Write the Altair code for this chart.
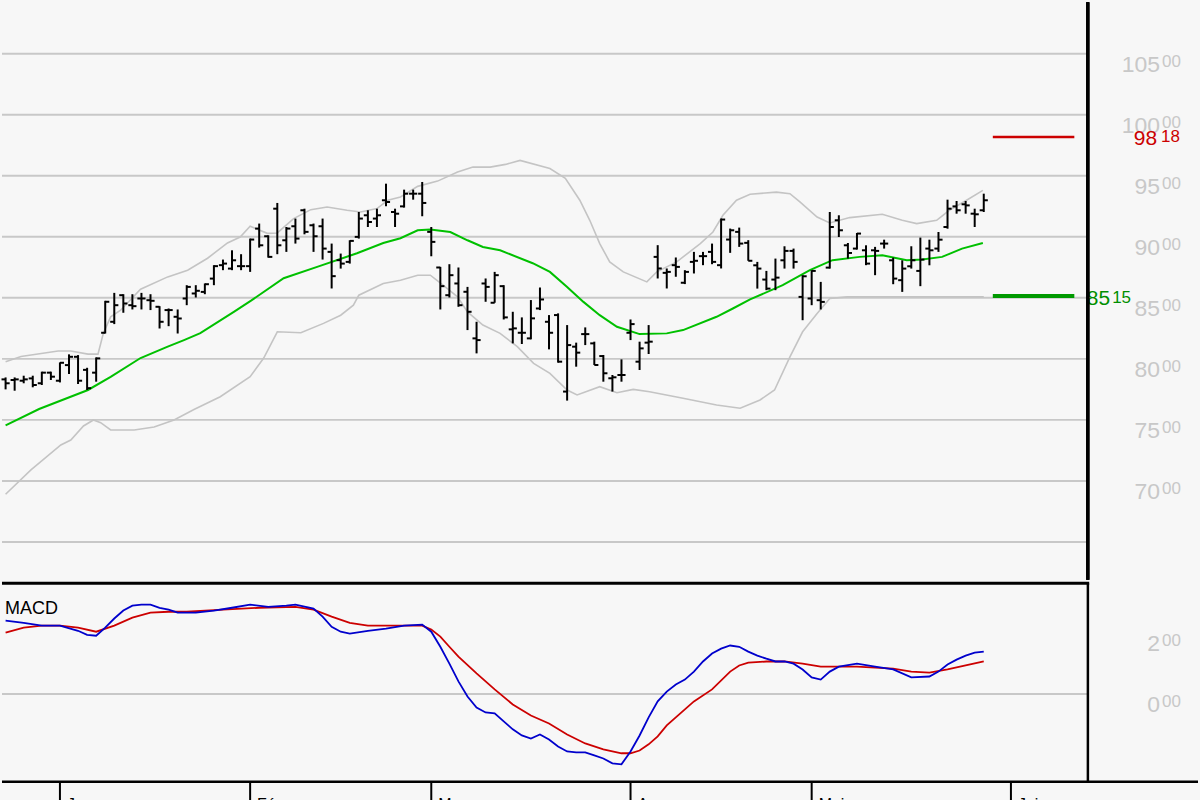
import altair as alt
import pandas as pd

# ---------------- data ----------------
open_ = [78.32, 78.27, 78.21, 78.40, 78.00, 78.87, 78.21, 79.49, 80.17, 79.10,
         78.87, 82.14, 83.04, 85.22, 84.40, 84.95, 84.81, 84.27, 84.00, 83.45,
         84.95, 85.36, 85.49, 86.58, 87.68, 87.40, 87.60, 87.60, 90.68, 90.05,
         92.31, 89.72, 90.87, 92.18, 90.95, 90.87, 88.77, 88.09, 87.95, 90.00,
         91.77, 91.50, 93.00, 92.04, 92.50, 93.54, 93.54, 90.41, 87.49, 85.22,
         86.18, 85.50, 81.68, 86.18, 84.60, 85.96, 82.42, 82.14, 81.68, 84.13,
         83.04, 83.59, 77.32, 81.00, 82.03, 81.27, 80.23, 78.41, 78.68, 82.14,
         79.77, 81.33, 88.36, 87.05, 87.68, 86.24, 87.95, 88.42, 88.77, 87.68,
         89.78, 90.41, 89.51, 87.67, 86.50, 86.50, 88.08, 88.85, 85.08, 84.95,
         84.81, 87.48, 91.36, 89.31, 89.04, 88.90, 88.90, 89.45, 88.08, 86.45,
         87.59, 87.21, 89.04, 89.04, 90.81, 92.50, 92.67, 91.90, 92.18]
high = [78.48, 78.48, 78.62, 78.62, 78.95, 78.95, 79.71, 80.37, 80.31, 79.27,
        80.12, 84.76, 85.41, 85.30, 85.30, 85.41, 85.30, 84.32, 84.13, 84.05,
        86.04, 86.04, 86.18, 87.68, 88.14, 88.90, 88.58, 89.86, 91.09, 90.13,
        92.78, 90.81, 91.50, 92.31, 91.09, 91.50, 89.45, 88.63, 89.72, 92.04,
        92.18, 92.31, 94.36, 92.31, 93.87, 93.87, 94.50, 90.81, 87.54, 87.76,
        87.49, 85.90, 83.04, 86.59, 87.13, 86.04, 83.86, 83.40, 84.82, 85.85,
        83.59, 83.73, 82.77, 81.33, 82.58, 81.41, 80.32, 78.68, 79.96, 83.23,
        81.41, 82.77, 89.32, 87.41, 88.31, 87.27, 88.77, 88.77, 89.45, 91.50,
        90.68, 90.76, 89.73, 87.95, 87.21, 88.22, 89.23, 89.04, 86.86, 87.27,
        86.31, 92.04, 91.77, 89.50, 90.32, 89.31, 89.18, 89.77, 88.30, 88.08,
        89.23, 89.94, 89.77, 90.40, 93.05, 92.94, 92.94, 92.31, 93.54]
low = [77.50, 77.39, 78.00, 77.67, 77.86, 78.27, 78.07, 78.76, 77.94, 77.45,
       78.13, 82.08, 82.85, 83.78, 84.05, 84.05, 84.00, 82.49, 82.68, 82.08,
       84.40, 85.03, 85.30, 86.04, 87.27, 87.27, 87.27, 87.13, 89.12, 88.30,
       88.58, 88.77, 89.45, 90.21, 88.77, 88.14, 85.77, 87.40, 87.81, 89.86,
       90.81, 90.81, 92.51, 90.81, 92.40, 93.05, 91.69, 88.41, 84.05, 85.03,
       84.27, 82.36, 80.45, 84.68, 84.60, 83.23, 81.27, 81.22, 81.60, 84.00,
       80.78, 79.69, 76.58, 79.36, 81.13, 79.50, 78.13, 77.32, 78.13, 81.54,
       79.09, 80.40, 86.59, 85.77, 86.73, 86.13, 87.00, 87.68, 87.76, 87.41,
       88.69, 89.18, 88.04, 85.76, 85.63, 85.63, 87.40, 87.40, 83.17, 84.40,
       84.05, 87.40, 89.99, 88.22, 88.96, 87.68, 86.86, 89.04, 86.12, 85.49,
       87.40, 85.96, 87.67, 88.77, 90.67, 91.90, 91.90, 90.81, 92.04]
close = [78.00, 78.32, 78.32, 77.86, 78.87, 78.54, 79.68, 80.17, 78.21, 77.60,
         80.04, 84.68, 84.40, 84.54, 84.32, 84.95, 84.76, 83.04, 84.00, 83.31,
         85.90, 85.58, 86.12, 87.60, 87.81, 88.08, 87.60, 89.78, 89.31, 88.36,
         89.31, 90.68, 89.86, 90.41, 90.05, 89.04, 86.78, 87.81, 89.67, 91.50,
         91.22, 91.77, 92.86, 91.90, 93.54, 93.54, 92.78, 89.59, 85.96, 86.86,
         84.40, 83.86, 81.54, 85.90, 86.86, 83.40, 82.50, 82.14, 83.32, 84.87,
         82.14, 79.77, 81.13, 80.51, 82.03, 79.50, 78.82, 78.49, 78.68, 82.85,
         80.86, 81.41, 87.41, 87.13, 87.54, 87.13, 88.04, 88.42, 87.95, 91.42,
         90.54, 89.45, 88.04, 87.40, 85.76, 86.66, 88.85, 87.95, 86.77, 87.21,
         84.67, 90.81, 90.54, 88.68, 90.27, 87.81, 88.85, 89.45, 86.58, 87.40,
         88.08, 88.14, 88.90, 89.77, 92.31, 92.18, 92.58, 91.85, 93.00]

sma_day = [0, 3.7, 9.1, 11.6, 14.9, 17.9, 19.7, 21.5, 25.2, 27.1, 30.7, 34.4,
           38.8, 41.7, 43.6, 45.5, 46.9, 49.1, 51.0, 52.7, 54.6, 58.2, 60.1, 62.0,
           63.8, 65.6, 67.5, 70.0, 73.0, 74.8, 78.5, 80.3, 82.2, 85.8, 88.8, 91.3,
           94.3, 96.8, 99.5, 101.2, 103.4, 105.6, 107.9]
sma_val = [74.55, 75.89, 77.45, 78.53, 80.07, 81.00, 81.54, 82.11, 83.85, 84.77,
           86.61, 87.54, 88.66, 89.50, 89.89, 90.54, 90.60, 90.40, 89.72, 89.17,
           88.90, 87.84, 87.13, 85.90, 84.67, 83.58, 82.63, 82.03, 82.09, 82.36,
           83.45, 84.13, 84.87, 86.04, 87.27, 88.09, 88.36, 88.50, 88.09, 88.14,
           88.36, 89.04, 89.50]

up_day = [0, 1.7, 5.8, 7.2, 9.1, 10.2, 10.8, 11.6, 12.7, 14.9, 17.9, 20.1, 22.3,
          24.5, 25.9, 27.0, 28.9, 30.0, 31.8, 33.7, 35.5, 37.7, 39.2, 41.0, 42.2,
          43.6, 45.5, 47.7, 49.9, 51.6, 53.5, 55.2, 56.8, 60.1, 61.8, 63.4, 64.5,
          65.6, 66.7, 68.2, 70.8, 71.9, 74.1, 76.7, 78.1, 79.2, 80.7, 82.2, 85.1,
          86.6, 87.7, 89.6, 91.0, 93.2, 96.8, 99.0, 100.6, 102.8, 104.2, 106.1, 107.9]
up_val = [79.76, 80.19, 80.64, 80.64, 80.39, 80.39, 82.11, 83.44, 83.99, 85.71,
          86.72, 87.27, 88.25, 89.50, 89.99, 90.87, 90.29, 90.32, 91.50, 92.23,
          92.45, 92.18, 92.04, 92.32, 93.00, 93.27, 94.14, 94.57, 95.31, 95.72,
          95.72, 95.94, 96.27, 95.60, 94.79, 93.00, 91.36, 89.45, 87.95, 87.13,
          86.31, 87.13, 87.95, 89.45, 90.40, 91.77, 93.00, 93.49, 93.67, 93.54,
          92.86, 91.63, 91.14, 91.58, 91.85, 91.36, 91.09, 91.36, 92.18, 93.00,
          93.81]

lo_day = [0, 2.8, 6.1, 7.2, 8.6, 9.7, 10.5, 11.6, 14.2, 16.4, 18.6, 20.8, 23.7,
          27.0, 28.5, 30.0, 32.6, 35.1, 37.0, 38.4, 39.0, 41.7, 43.6, 45.5, 46.9,
          48.3, 49.9, 51.0, 52.7, 54.6, 56.5, 58.3, 60.1, 62.0, 63.1, 65.6, 67.5,
          69.3, 71.1, 74.8, 78.5, 81.1, 83.3, 84.9, 86.6, 88.0, 89.6, 91.0, 92.9,
          108.0]
lo_val = [68.90, 70.90, 72.94, 73.35, 74.50, 74.99, 74.77, 74.17, 74.17, 74.42,
          74.99, 75.85, 76.90, 78.54, 80.07, 82.22, 82.14, 82.91, 83.58, 84.40,
          85.22, 86.18, 86.45, 86.86, 86.86, 86.04, 85.08, 83.85, 82.77, 82.09,
          81.00, 79.63, 78.81, 77.45, 77.04, 77.72, 77.23, 77.50, 77.31, 76.77,
          76.22, 75.95, 76.63, 77.45, 80.17, 82.22, 83.72, 84.95, 85.08, 85.08]

macd_day = [0, 2, 4, 6, 8, 9, 10, 11, 12, 13, 14, 15, 16, 17, 18, 19, 21, 23, 25,
            27, 29, 31, 32, 34, 35, 36, 37, 38, 40, 42, 44, 46, 47, 48, 49, 50, 51,
            52, 53, 54, 55, 56, 57, 58, 59, 60, 61, 62, 63, 64, 65, 66, 67, 68, 69,
            70, 71, 72, 73, 74, 75, 76, 77, 78, 79, 80, 81, 82, 83, 84, 85, 86, 87,
            88, 89, 90, 91, 92, 94, 96, 98, 100, 102, 103, 104, 105, 106, 107, 108]
macd_val = [2.39, 2.32, 2.23, 2.23, 2.06, 1.93, 1.90, 2.16, 2.46, 2.72, 2.88, 2.91,
            2.91, 2.81, 2.75, 2.65, 2.65, 2.72, 2.81, 2.91, 2.84, 2.88, 2.91, 2.78,
            2.52, 2.19, 2.03, 1.97, 2.06, 2.13, 2.23, 2.26, 2.03, 1.54, 0.99, 0.41,
            -0.08, -0.44, -0.60, -0.63, -0.89, -1.15, -1.35, -1.45, -1.32, -1.48,
            -1.71, -1.87, -1.90, -1.90, -2.00, -2.10, -2.26, -2.29, -1.87, -1.35,
            -0.76, -0.24, 0.08, 0.31, 0.47, 0.73, 1.06, 1.32, 1.48, 1.58, 1.54,
            1.38, 1.25, 1.15, 1.06, 1.06, 0.99, 0.80, 0.54, 0.47, 0.73, 0.89, 0.99,
            0.89, 0.80, 0.54, 0.57, 0.73, 0.96, 1.12, 1.25, 1.35, 1.38]

sig_day = [0, 2, 4, 6, 8, 10, 12, 14, 16, 18, 20, 24, 28, 32, 34, 36, 38, 40, 44,
           46, 47, 48, 49, 50, 52, 54, 56, 58, 60, 62, 64, 66, 68, 69, 70, 71, 72,
           73, 74, 76, 78, 80, 81, 82, 84, 86, 88, 90, 94, 98, 100, 102, 104, 106, 108]
sig_val = [2.00, 2.16, 2.23, 2.23, 2.16, 2.03, 2.23, 2.49, 2.65, 2.68, 2.68, 2.75,
           2.81, 2.84, 2.75, 2.52, 2.32, 2.23, 2.23, 2.23, 2.10, 1.87, 1.54, 1.22,
           0.67, 0.15, -0.34, -0.70, -0.96, -1.32, -1.61, -1.80, -1.93, -1.93,
           -1.84, -1.64, -1.38, -1.02, -0.76, -0.24, 0.15, 0.73, 0.93, 1.02, 1.06,
           1.06, 0.99, 0.89, 0.89, 0.83, 0.73, 0.70, 0.80, 0.93, 1.06]

price_grid = [105, 100, 95, 90, 85, 80, 75, 70, 65]
price_labels = [105, 100, 95, 90, 85, 80, 75, 70]
macd_grid = [0]
macd_labels = [2, 0]

month_day = [6, 27, 47, 69, 89, 111]
month_name = ["Janv.", "Févr.", "Mars", "Avr.", "Mai", "Juin"]

level_red = 98.18
level_green = 85.15
level_from, level_to = 109, 118

# ---------------- styling ----------------
BG = "#f7f7f7"
GRID = "#c8c8c8"
W = 1088
H_MAIN = 580
H_MACD = 220
FONT = "Liberation Sans"

xs = alt.Scale(domain=[-0.507, 119.42], nice=False, zero=False)
ys = alt.Scale(domain=[61.90, 109.36], nice=False, zero=False)
ms = alt.Scale(domain=[-3.496, 3.659], nice=False, zero=False)


def split_label(v):
    a, b = f"{v:.2f}".split(".")
    return a, b


ohlc = pd.DataFrame({"day": list(range(len(open_))), "o": open_, "h": high,
                     "l": low, "c": close})
ohlc["dl"] = ohlc["day"] - 0.45
ohlc["dr"] = ohlc["day"] + 0.45

bands = pd.concat([
    pd.DataFrame({"day": up_day, "v": up_val, "b": "up"}),
    pd.DataFrame({"day": lo_day, "v": lo_val, "b": "lo"}),
])
sma = pd.DataFrame({"day": sma_day, "v": sma_val})

grid_df = pd.DataFrame({"v": price_grid})
lab_df = pd.DataFrame({"v": price_labels})
lab_df["ip"] = [split_label(v)[0] for v in price_labels]
lab_df["dp"] = [split_label(v)[1] for v in price_labels]

lev_df = pd.DataFrame({"v": [level_red, level_green],
                       "d0": [level_from, level_from],
                       "d1": [level_to, level_to],
                       "ip": [split_label(level_red)[0], split_label(level_green)[0]],
                       "dp": [split_label(level_red)[1], split_label(level_green)[1]]})

X = lambda f: alt.X(f, scale=xs, axis=None)
Y = lambda f: alt.Y(f, scale=ys, axis=None)

grid = alt.Chart(grid_df).mark_rule(color=GRID, strokeWidth=2).encode(
    y=Y("v:Q"), x=alt.value(1), x2=alt.value(W))

band_lines = alt.Chart(bands).mark_line(color="#c4c4c4", strokeWidth=1.6).encode(
    x=X("day:Q"), y=Y("v:Q"), detail="b:N")

sma_line = alt.Chart(sma).mark_line(color="#00c000", strokeWidth=2).encode(
    x=X("day:Q"), y=Y("v:Q"))

hl = alt.Chart(ohlc).mark_rule(color="black", strokeWidth=2).encode(
    x=X("day:Q"), y=Y("h:Q"), y2="l:Q")
op = alt.Chart(ohlc).mark_rule(color="black", strokeWidth=2).encode(
    x=X("dl:Q"), x2="day:Q", y=Y("o:Q"))
cl = alt.Chart(ohlc).mark_rule(color="black", strokeWidth=2).encode(
    x=X("day:Q"), x2="dr:Q", y=Y("c:Q"))

red_df = lev_df.iloc[[0]]
green_df = lev_df.iloc[[1]]
red_line = alt.Chart(red_df).mark_rule(color="#cc0000", strokeWidth=2.5).encode(
    x=X("d0:Q"), x2="d1:Q", y=Y("v:Q"))
green_line = alt.Chart(green_df).mark_rule(color="#009900", strokeWidth=4).encode(
    x=X("d0:Q"), x2="d1:Q", y=Y("v:Q"))
red_ip = alt.Chart(red_df).mark_text(font=FONT, fontSize=21, color="#cc0000",
                                     align="right", baseline="alphabetic", dy=8).encode(
    x=alt.value(1158), y=Y("v:Q"), text="ip:N")
red_dp = alt.Chart(red_df).mark_text(font=FONT, fontSize=17, color="#cc0000",
                                     align="left", baseline="alphabetic", dy=5).encode(
    x=alt.value(1162), y=Y("v:Q"), text="dp:N")
green_ip = alt.Chart(green_df).mark_text(font=FONT, fontSize=21, color="#008f00",
                                         align="right", baseline="alphabetic", dy=9).encode(
    x=alt.value(1111), y=Y("v:Q"), text="ip:N")
green_dp = alt.Chart(green_df).mark_text(font=FONT, fontSize=17, color="#008f00",
                                         align="left", baseline="alphabetic", dy=7).encode(
    x=alt.value(1113), y=Y("v:Q"), text="dp:N")

lab_ip = alt.Chart(lab_df).mark_text(font=FONT, fontSize=23, color=GRID,
                                     align="right", baseline="alphabetic", dy=18).encode(
    x=alt.value(1161), y=Y("v:Q"), text="ip:N")
lab_dp = alt.Chart(lab_df).mark_text(font=FONT, fontSize=17, color=GRID,
                                     align="left", baseline="alphabetic", dy=13).encode(
    x=alt.value(1163), y=Y("v:Q"), text="dp:N")

border_main = alt.Chart(grid_df).mark_rule(color="black", strokeWidth=2.5).encode(
    x=alt.value(1088.7), y=alt.value(1.5), y2=alt.value(H_MAIN))

main = alt.layer(grid, band_lines, sma_line, hl, op, cl, red_line, green_line,
                 lab_ip, lab_dp, red_ip, red_dp, green_ip, green_dp,
                 border_main).properties(width=W, height=H_MAIN)

# ---------------- MACD panel ----------------
macd_df = pd.DataFrame({"day": macd_day, "v": macd_val})
sig_df = pd.DataFrame({"day": sig_day, "v": sig_val})
mgrid_df = pd.DataFrame({"v": macd_grid})
mlab_df = pd.DataFrame({"v": macd_labels})
mlab_df["ip"] = [split_label(v)[0] for v in macd_labels]
mlab_df["dp"] = [split_label(v)[1] for v in macd_labels]
month_df = pd.DataFrame({"day": month_day, "name": month_name})

MY = lambda f: alt.Y(f, scale=ms, axis=None)

mgrid = alt.Chart(mgrid_df).mark_rule(color=GRID, strokeWidth=2).encode(
    y=MY("v:Q"), x=alt.value(1), x2=alt.value(W))
sig_line = alt.Chart(sig_df).mark_line(color="#cc0000", strokeWidth=1.8).encode(
    x=X("day:Q"), y=MY("v:Q"))
macd_line = alt.Chart(macd_df).mark_line(color="#0000cc", strokeWidth=1.8).encode(
    x=X("day:Q"), y=MY("v:Q"))
macd_title = alt.Chart(mgrid_df).mark_text(font=FONT, fontSize=18, color="black",
                                           align="left", baseline="alphabetic",
                                           text="MACD").encode(
    x=alt.value(4), y=alt.value(32))
mlab_ip = alt.Chart(mlab_df).mark_text(font=FONT, fontSize=23, color=GRID,
                                       align="right", baseline="alphabetic", dy=18).encode(
    x=alt.value(1161), y=MY("v:Q"), text="ip:N")
mlab_dp = alt.Chart(mlab_df).mark_text(font=FONT, fontSize=17, color=GRID,
                                       align="left", baseline="alphabetic", dy=13).encode(
    x=alt.value(1163), y=MY("v:Q"), text="dp:N")
top_line = alt.Chart(mgrid_df).mark_rule(color="black", strokeWidth=3).encode(
    y=alt.value(1.5), x=alt.value(1), x2=alt.value(1090))
border_macd = alt.Chart(mgrid_df).mark_rule(color="black", strokeWidth=2.5).encode(
    x=alt.value(1088.7), y=alt.value(1.5), y2=alt.value(201))
bottom_line = alt.Chart(mgrid_df).mark_rule(color="black", strokeWidth=2.5).encode(
    y=alt.value(200.5), x=alt.value(1), x2=alt.value(1199))
month_ticks = alt.Chart(month_df).mark_rule(color="black", strokeWidth=2).encode(
    x=X("day:Q"), y=alt.value(200), y2=alt.value(H_MACD))
month_text = alt.Chart(month_df).mark_text(font=FONT, fontSize=16, color="black",
                                           align="left", baseline="alphabetic",
                                           dx=7, clip=True).encode(
    x=X("day:Q"), y=alt.value(229), text="name:N")

macd = alt.layer(mgrid, sig_line, macd_line, macd_title, mlab_ip, mlab_dp,
                 top_line, border_macd, bottom_line, month_ticks,
                 month_text).properties(width=W, height=H_MACD)

chart = alt.vconcat(main, macd, spacing=0).properties(
    padding={"left": 0, "top": 0, "right": 0, "bottom": 0},
    background=BG
).configure_view(stroke=None)

chart.save("out.html", embed_options={"renderer": "svg", "actions": False})
